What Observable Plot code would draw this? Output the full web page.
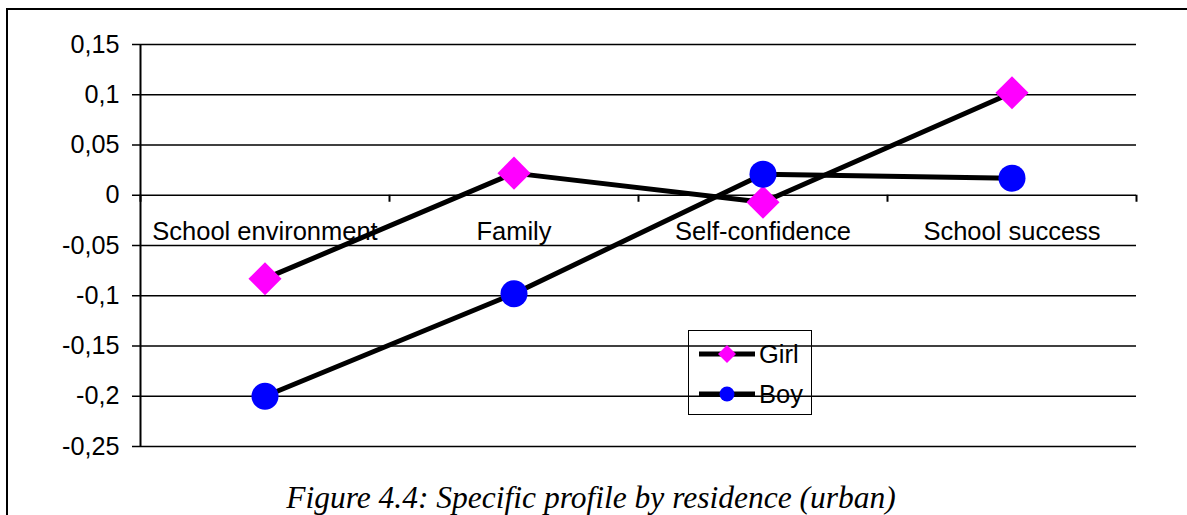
<!DOCTYPE html>
<html>
<head>
<meta charset="utf-8">
<script src="https://cdn.jsdelivr.net/npm/d3@7"></script>
<script src="https://cdn.jsdelivr.net/npm/@observablehq/plot@0.6"></script>
<style>
  html, body { margin: 0; padding: 0; background: #fff; }
  #wrap { position: relative; width: 1187px; height: 515px; overflow: hidden; font-family: "Liberation Sans", Arial, sans-serif; }
  #frame { position: absolute; left: 6px; top: 8px; width: 1187px; height: 520px; border-left: 2px solid #000; border-top: 2px solid #000; box-sizing: border-box; pointer-events: none; }
  #chart { position: absolute; left: 0; top: 0; }
  #legend { position: absolute; left: 688px; top: 330px; width: 124px; height: 85px; border: 1.5px solid #000; box-sizing: border-box; }
  #caption { position: absolute; left: 0; top: 478px; width: 1182px; text-align: center; font-family: "Liberation Serif", "Times New Roman", serif; font-style: italic; font-size: 31.5px; line-height: 40px; color: #000; white-space: nowrap; }
</style>
</head>
<body>
<div id="wrap">
  <div id="chart"></div>
  <div id="legend"></div>
  <div id="frame"></div>
  <div id="caption">Figure 4.4: Specific profile by residence (urban)</div>
</div>
<script>
const categories = ["School environment", "Family", "Self-confidence", "School success"];
const girl = [-0.083, 0.022, -0.007, 0.102];
const boy = [-0.200, -0.098, 0.021, 0.017];
const seriesNames = ["Girl", "Boy"];
const yTicks = [0.15, 0.1, 0.05, 0, -0.05, -0.1, -0.15, -0.2, -0.25];

const seriesColors = {Girl: "#FF00FF", Boy: "#0000FF"};
const seriesSymbols = {Girl: "diamond2", Boy: "circle"};

const rows = [];
[girl, boy].forEach((vals, s) => {
  vals.forEach((v, i) => rows.push({series: seriesNames[s], idx: i + 0.5, value: v}));
});
const edges = d3.range(categories.length + 1);
const fmt = d => String(d).replace(".", ",");

const chart = Plot.plot({
  width: 1187,
  height: 470,
  marginLeft: 140,
  marginRight: 51,
  marginTop: 44,
  marginBottom: 24,
  style: {fontFamily: "Liberation Sans, Arial, sans-serif", fontSize: "25px", color: "#000", background: "transparent"},
  x: {domain: [0, categories.length], axis: null},
  y: {domain: [-0.25, 0.15], axis: null},
  marks: [
    Plot.ruleY(yTicks, {stroke: "#000", strokeWidth: 1.5}),
    Plot.ruleX([0], {stroke: "#000", strokeWidth: 2}),
    Plot.axisY({ticks: yTicks, tickSize: 8, tickPadding: 13, tickFormat: fmt, fontSize: 25.2, stroke: "#000", strokeWidth: 1.5, label: null, fill: "#000"}),
    Plot.ruleX(edges, {x: d => d, y1: 0, y2: 0, insetBottom: -7, stroke: "#000", strokeWidth: 2}),
    Plot.text(categories, {x: (d, i) => i + 0.5, y: 0, dy: 37, text: d => d, fontSize: 25.5, fill: "#000"}),
    Plot.line(rows, {x: "idx", y: "value", z: "series", stroke: "#000", strokeWidth: 5}),
    Plot.dot(rows.filter(d => d.series === "Girl"), {x: "idx", y: "value", symbol: "diamond2", r: 14.9, fill: seriesColors.Girl, stroke: "none"}),
    Plot.dot(rows.filter(d => d.series === "Boy"), {x: "idx", y: "value", symbol: "circle", r: 13.5, fill: seriesColors.Boy, stroke: "none"})
  ]
});
document.getElementById("chart").appendChild(chart);

// legend
const leg = d3.select("#legend");
seriesNames.forEach((name, i) => {
  const row = leg.append("div").style("position", "absolute").style("left", "8px").style("top", (i === 0 ? 7 : 47) + "px").style("height", "32px").style("display", "flex").style("align-items", "center");
  const svg = row.append("svg").attr("width", 60).attr("height", 32);
  svg.append("line").attr("x1", 2).attr("x2", 58).attr("y1", 16).attr("y2", 16).attr("stroke", "#000").attr("stroke-width", 5);
  if (seriesSymbols[name] === "diamond2") {
    svg.append("path").attr("d", "M30,7L39,16L30,25L21,16Z").attr("fill", seriesColors[name]);
  } else {
    svg.append("circle").attr("cx", 30).attr("cy", 16).attr("r", 7.5).attr("fill", seriesColors[name]);
  }
  row.append("span").text(name).style("font-size", "25.5px").style("margin-left", "2px").style("color", "#000");
});
</script>
</body>
</html>
